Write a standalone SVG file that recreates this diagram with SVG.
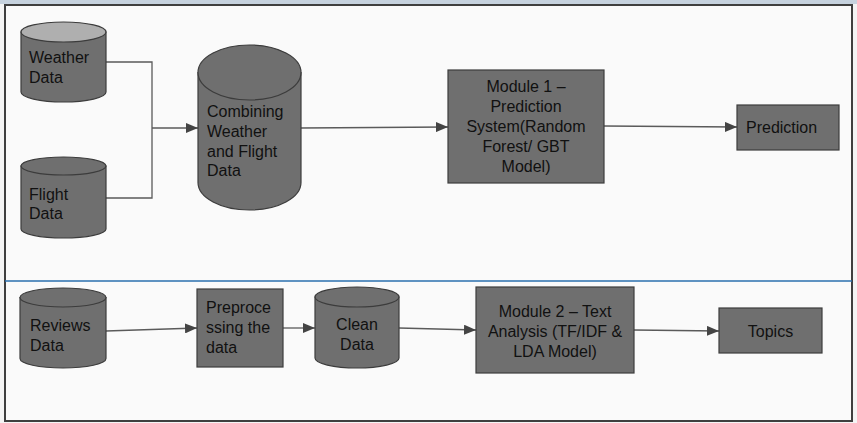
<svg xmlns="http://www.w3.org/2000/svg" width="857" height="423" viewBox="0 0 857 423">
<style>
.shape{fill:#6f6f6f;stroke:#3c3c3c;stroke-width:1.2}
.lid{fill:#6f6f6f;stroke:#3c3c3c;stroke-width:1.2}
.lidlight{fill:#afafaf;stroke:#3c3c3c;stroke-width:1.2}
.t{font-family:"Liberation Sans",Arial,sans-serif;font-size:16px;fill:#111111}
.c{text-anchor:middle}
.conn{fill:none;stroke:#5a5a5a;stroke-width:1.3}
</style>
<defs>
<marker id="arr" viewBox="0 0 12 10" refX="12" refY="5" markerWidth="12" markerHeight="10" markerUnits="userSpaceOnUse" orient="auto">
<path d="M0,0 L12,5 L0,10 Z" fill="#444444"/>
</marker>
</defs>
<rect x="0" y="0" width="857" height="423" fill="#f4f4f4"/>
<rect x="0" y="0" width="857" height="4" fill="#c6d2de"/>
<rect x="5" y="5" width="847" height="416" fill="#fafafa" stroke="#3f3f3f" stroke-width="2"/>
<line x1="5" y1="281" x2="852" y2="281" stroke="#2a6fae" stroke-width="1.5"/>

<g id="connectors">
<polyline class="conn" points="106,62 152,62 152,198 106,198"/>
<line class="conn" x1="152" y1="128" x2="198" y2="128" marker-end="url(#arr)"/>
<line class="conn" x1="301" y1="128" x2="448" y2="127" marker-end="url(#arr)"/>
<line class="conn" x1="604" y1="126" x2="737" y2="127" marker-end="url(#arr)"/>
<line class="conn" x1="106" y1="331" x2="197" y2="328" marker-end="url(#arr)"/>
<line class="conn" x1="283" y1="328" x2="315" y2="328" marker-end="url(#arr)"/>
<line class="conn" x1="399" y1="328" x2="476" y2="330" marker-end="url(#arr)"/>
<line class="conn" x1="634" y1="330" x2="719" y2="331" marker-end="url(#arr)"/>
</g>

<g id="weather-data">
<path class="shape" d="M21,32 V92 A42.5,10 0 0 0 106,92 V32 Z"/>
<ellipse class="lidlight" cx="63.5" cy="32" rx="42.5" ry="10"/>
<text class="t" x="29" y="63">Weather</text>
<text class="t" x="29" y="83">Data</text>
</g>

<g id="flight-data">
<path class="shape" d="M21,166 V229 A42.5,9 0 0 0 106,229 V166 Z"/>
<ellipse class="lid" cx="63.5" cy="166" rx="42.5" ry="9"/>
<text class="t" x="29" y="200">Flight</text>
<text class="t" x="29" y="219">Data</text>
</g>

<g id="combining">
<path class="shape" d="M198,72.5 V182.5 A51.5,27.5 0 0 0 301,182.5 V72.5 Z"/>
<ellipse class="lid" cx="249.5" cy="72.5" rx="51.5" ry="27.5"/>
<text class="t" x="207" y="117">Combining</text>
<text class="t" x="207" y="137">Weather</text>
<text class="t" x="207" y="157">and Flight</text>
<text class="t" x="207" y="176">Data</text>
</g>

<g id="module1">
<rect class="shape" x="448" y="70" width="156" height="113"/>
<text class="t c" x="526" y="92">Module 1 –</text>
<text class="t c" x="526" y="112">Prediction</text>
<text class="t c" x="526" y="132">System(Random</text>
<text class="t c" x="526" y="152">Forest/ GBT</text>
<text class="t c" x="526" y="172">Model)</text>
</g>

<g id="prediction">
<rect class="shape" x="737" y="105" width="102" height="45"/>
<text class="t" x="746" y="133">Prediction</text>
</g>

<g id="reviews-data">
<path class="shape" d="M20,297.5 V358.5 A43,9.5 0 0 0 106,358.5 V297.5 Z"/>
<ellipse class="lid" cx="63" cy="297.5" rx="43" ry="9.5"/>
<text class="t" x="30" y="331">Reviews</text>
<text class="t" x="30" y="351">Data</text>
</g>

<g id="preprocessing">
<rect class="shape" x="197" y="289" width="86" height="78"/>
<text class="t" x="206" y="313">Preproce</text>
<text class="t" x="206" y="333">ssing the</text>
<text class="t" x="206" y="353">data</text>
</g>

<g id="clean-data">
<path class="shape" d="M315,297 V358 A42,10 0 0 0 399,358 V297 Z"/>
<ellipse class="lid" cx="357" cy="297" rx="42" ry="10"/>
<text class="t c" x="357" y="330">Clean</text>
<text class="t c" x="357" y="350">Data</text>
</g>

<g id="module2">
<rect class="shape" x="476" y="287" width="158" height="86"/>
<text class="t c" x="555" y="317">Module 2 – Text</text>
<text class="t c" x="555" y="337">Analysis (TF/IDF &amp;</text>
<text class="t c" x="555" y="357">LDA Model)</text>
</g>

<g id="topics">
<rect class="shape" x="719" y="308" width="103" height="45"/>
<text class="t c" x="770.5" y="337">Topics</text>
</g>
</svg>
